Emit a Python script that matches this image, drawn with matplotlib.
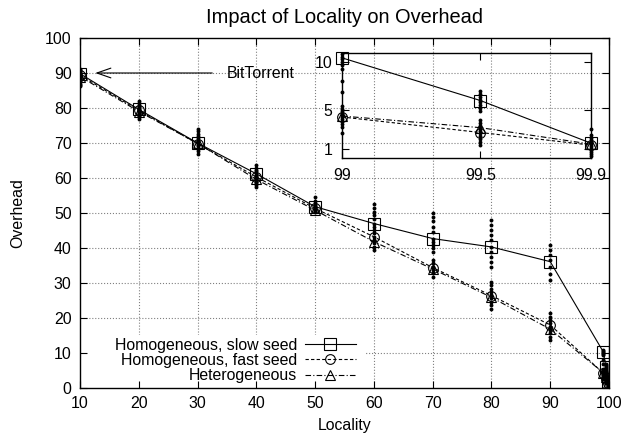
import matplotlib.pyplot as plt
from matplotlib.patches import Rectangle

plt.rcParams['font.family'] = ['Liberation Sans', 'DejaVu Sans']

# средние значения по сериям
locality = [10, 20, 30, 40, 50, 60, 70, 80, 90, 99, 99.5, 99.9]
slow_seed = [89.8, 79.6, 70.0, 61.2, 51.8, 47.0, 42.7, 40.3, 36.1, 10.4, 6.0, 1.6]
fast_seed = [89.4, 79.3, 69.8, 60.3, 51.3, 43.2, 34.4, 26.4, 18.0, 4.3, 2.7, 1.4]
hetero = [89.0, 79.0, 69.9, 59.6, 50.8, 41.8, 34.0, 25.9, 16.8, 4.4, 3.2, 1.5]

# отдельные прогоны (точки)
runs_10 = [91.2, 90.8, 90.5, 90.2, 90.0, 89.8, 89.6, 89.4, 89.2, 89.0, 88.8,
           88.6, 88.4, 88.2, 88.0, 87.7, 87.4, 87.0, 86.6, 86.2]
runs_20 = [82.0, 81.5, 81.0, 80.6, 80.3, 80.0, 79.8, 79.5, 79.2, 79.0, 78.7,
           78.4, 78.1, 77.8, 77.4, 77.0]
runs_30 = [74.0, 73.3, 72.6, 72.0, 71.4, 71.0, 70.5, 70.2, 69.8, 69.5, 69.1,
           68.7, 68.2, 67.6, 67.0]
runs_40 = [63.6, 63.0, 62.4, 61.9, 61.4, 61.0, 60.6, 60.2, 59.8, 59.4, 59.0,
           58.5, 58.0, 57.4]
runs_50 = [54.6, 53.5, 52.8, 52.4, 52.0, 51.7, 51.4, 51.1, 50.8, 50.5, 50.2]
runs_60 = [52.5, 51.3, 50.3, 49.4, 48.4, 47.0, 46.1, 45.1, 44.2, 43.2, 42.3,
           41.3, 40.4, 39.4]
runs_70 = [49.9, 48.8, 47.6, 46.1, 44.7, 42.7, 41.8, 40.8, 39.9, 38.9, 36.5,
           35.6, 34.5, 33.7, 32.8, 31.8]
runs_80 = [47.9, 46.5, 45.1, 43.6, 42.2, 40.3, 38.9, 37.4, 36.0, 34.6, 30.3,
           29.4, 28.4, 27.5, 26.5, 25.6, 24.6, 23.7, 22.7]
runs_90 = [40.8, 39.4, 38.0, 36.5, 34.6, 32.7, 31.0, 21.3, 20.4, 19.4, 18.5,
           17.5, 16.6, 15.6, 14.7, 13.7]
runs_99 = [10.8, 10.5, 10.3, 10.0, 9.7, 9.3, 8.0, 6.9, 5.4, 5.1, 4.9, 4.7,
           4.5, 4.3, 4.1, 3.9, 3.6, 3.3, 2.6]
runs_995 = [7.0, 6.7, 6.4, 6.1, 5.8, 5.5, 5.2, 4.9, 4.0, 3.7, 3.4, 3.1, 2.9,
            2.6, 2.3, 2.0, 1.7, 1.4]
runs_999 = [3.1, 2.4, 2.1, 1.9, 1.7, 1.5, 1.3, 1.1, 0.9, 0.7, 0.5, 0.3]

run_sets = [runs_10, runs_20, runs_30, runs_40, runs_50, runs_60, runs_70,
            runs_80, runs_90, runs_99, runs_995, runs_999]

labels = ['Homogeneous, slow seed', 'Homogeneous, fast seed', 'Heterogeneous']
styles = [dict(ls='-', marker='s', ms=8),
          dict(ls=(0, (3, 2)), marker='o', ms=7),
          dict(ls=(0, (5, 2, 1, 2)), marker='^', ms=7)]
series = [slow_seed, fast_seed, hetero]
x_ticks = list(range(10, 101, 10))
y_ticks = list(range(0, 101, 10))
FS = 11.4


def draw(ax, start=0, clip=True):
    xs = locality[start:]
    for x, vals in zip(xs, run_sets[start:]):
        ax.plot([x] * len(vals), vals, 'o', color='black', ms=2.8, mew=0,
                zorder=3, clip_on=clip)
    lines = []
    for ys, lab, st in zip(series, labels, styles):
        l, = ax.plot(xs, ys[start:], color='black', lw=0.8, mfc='none',
                     mew=0.8, label=lab, zorder=4, clip_on=clip, **st)
        lines.append(l)
    return lines


fig = plt.figure(figsize=(6.25, 4.41), dpi=100)
ax = fig.add_axes([80 / 625, 53 / 441, 529 / 625, 350 / 441])
ax.set_axisbelow(False)
# сетка пунктиром
for t in x_ticks[1:-1]:
    ax.axvline(t, ls=':', color='gray', lw=0.8, zorder=1)
for t in y_ticks[1:-1]:
    ax.axhline(t, ls=':', color='gray', lw=0.8, zorder=1)
# белая подложка под легендой
ax.add_patch(Rectangle((0, 0), 0.539, 0.151, transform=ax.transAxes,
                       facecolor='white', edgecolor='none', zorder=1.2))
lines = draw(ax)
ax.set_xlim(10, 100)
ax.set_ylim(0, 100)
ax.set_xticks(x_ticks)
ax.set_yticks(y_ticks)
ax.tick_params(direction='in', top=True, right=True, length=5, pad=6,
               labelsize=FS)
for s in ax.spines.values():
    s.set_linewidth(1)
ax.set_title('Impact of Locality on Overhead', fontsize=14.4, pad=11)
ax.set_xlabel('Locality', fontsize=FS, labelpad=5)
ax.set_ylabel('Overhead', fontsize=FS, labelpad=14)

ax.annotate('', xy=(12.6, 90), xytext=(32.5, 90),
            arrowprops=dict(arrowstyle='->,head_length=1.0,head_width=0.35',
                            lw=0.8, color='black', shrinkA=0, shrinkB=0))
ax.text(35, 90, 'BitTorrent', va='center', ha='left', fontsize=FS)

leg = ax.legend(handles=lines, loc='lower right', bbox_to_anchor=(0.530, 0),
                borderaxespad=0, markerfirst=False, frameon=False,
                handlelength=3.2, handletextpad=0.5,
                labelspacing=0.02, borderpad=0.3, fontsize=FS)

# врезка с увеличенным участком 99..99.9
ins = fig.add_axes([342 / 625, (441 - 158) / 441, (591 - 342) / 625, 105 / 441])
ins.patch.set_alpha(0)
draw(ins, start=9, clip=False)
ins.set_xlim(99, 99.9)
ins.set_ylim(0.07, 10.9)
ins.set_xticks([99, 99.5, 99.9])
ins.set_xticklabels(['99', '99.5', '99.9'])
ins.set_yticks([1, 5, 10])
ins.tick_params(direction='in', top=True, right=True, length=5, pad=7,
                labelsize=FS)
for s in ins.spines.values():
    s.set_linewidth(1)

fig.savefig('out.png', dpi=100)
